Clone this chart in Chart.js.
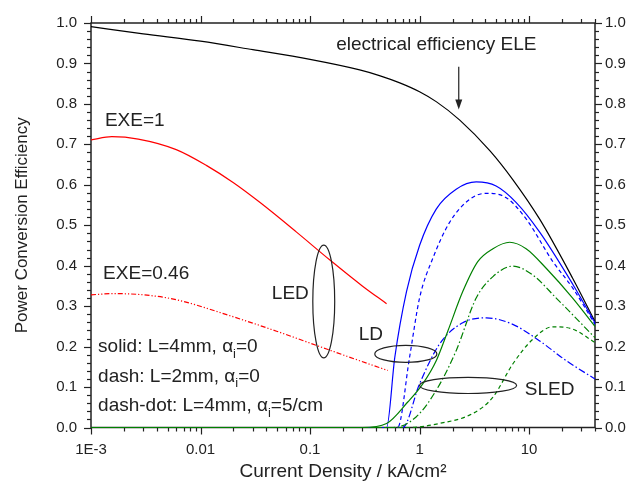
<!DOCTYPE html>
<html><head><meta charset="utf-8">
<script src="https://cdn.jsdelivr.net/npm/chart.js@4/dist/chart.umd.min.js"></script>
<style>html,body{margin:0;padding:0;background:#fff}</style>
</head><body>
<canvas id="c" width="635" height="491"></canvas>
<script>
// ---- tick labels ----
const xTicks = [0.001, 0.01, 0.1, 1, 10];
const xTickLabels = ['1E-3', '0.01', '0.1', '1', '10'];
const yTicks = [0, 0.1, 0.2, 0.3, 0.4, 0.5, 0.6, 0.7, 0.8, 0.9, 1.0];

// ---- series (current density kA/cm^2, efficiency) ----
const ELE_J = [0.001, 0.003, 0.01, 0.03, 0.1, 0.284, 0.43, 0.66, 1.0, 1.43, 2.33, 4.4, 7.1, 12.5, 25, 40];
const ELE   = [0.991, 0.973, 0.955, 0.934, 0.910, 0.884, 0.870, 0.852, 0.830, 0.805, 0.760, 0.684, 0.613, 0.515, 0.369, 0.262];

const LED1_J = [0.001, 0.00155, 0.0027, 0.006, 0.0113, 0.02, 0.035, 0.0753, 0.152, 0.3, 0.5];
const LED1   = [0.711, 0.719, 0.713, 0.687, 0.648, 0.605, 0.556, 0.483, 0.414, 0.350, 0.306];

const LED046_J = [0.001, 0.0016, 0.003, 0.006, 0.0173, 0.0495, 0.1416, 0.284, 0.513];
const LED046   = [0.328, 0.331, 0.328, 0.316, 0.279, 0.238, 0.194, 0.165, 0.141];

const LD_SOLID_J = [0.001, 0.5, 0.594, 0.76, 1.0, 1.42, 2.16, 3.29, 5.0, 7.64, 12.5, 25.2, 40];
const LD_SOLID   = [0, 0, 0.173, 0.336, 0.450, 0.540, 0.589, 0.607, 0.597, 0.556, 0.483, 0.353, 0.259];

const LD_DASH_J = [0.001, 0.63, 0.81, 1.0, 1.32, 1.88, 2.86, 4.07, 6.2, 9.44, 16.5, 25, 40];
const LD_DASH   = [0, 0, 0.173, 0.320, 0.418, 0.507, 0.564, 0.579, 0.568, 0.515, 0.410, 0.345, 0.255];

const LD_DOT_J = [0.001, 0.7, 1.0, 1.52, 2.48, 4.07, 7.1, 12.5, 21.9, 40];
const LD_DOT   = [0, 0, 0.108, 0.206, 0.259, 0.271, 0.255, 0.214, 0.165, 0.120];

const SLED_SOLID_J = [0.001, 0.3, 0.5, 0.78, 1.07, 1.42, 1.81, 2.48, 3.4, 4.68, 6.65, 9.4, 14.4, 25, 40];
const SLED_SOLID   = [0, 0, 0.010, 0.063, 0.108, 0.165, 0.238, 0.336, 0.410, 0.442, 0.458, 0.442, 0.393, 0.320, 0.250];

const SLED_DOT_J = [0.001, 0.575, 0.93, 1.42, 2.16, 3.29, 4.68, 7.1, 10.8, 17.7, 40];
const SLED_DOT   = [0, 0, 0.026, 0.092, 0.190, 0.320, 0.373, 0.399, 0.377, 0.320, 0.222];

const SLED_DASH_J = [0.001, 0.8, 1.52, 3.08, 4.68, 7.1, 10.8, 16.5, 25.2, 40];
const SLED_DASH   = [0, 0, 0.010, 0.035, 0.075, 0.157, 0.218, 0.249, 0.243, 0.210];

// ---- styling ----
const FONT = "'Liberation Sans', Arial, sans-serif";
Chart.defaults.font.family = FONT;
Chart.defaults.color = '#222';

const DASH = [4, 3];
const DASHDOT = [7, 2.5, 1.5, 2.5];
const RED_DASHDOT = [5, 2, 1.2, 2, 1.2, 2];
const NOTE_SIZE = 19, SUB_SIZE = 13;

function pts(J, V) { return J.map((x, i) => ({x: x, y: V[i]})); }
function ds(J, V, color, dash, w) {
  return { data: pts(J, V), borderColor: color, borderWidth: w || 1.2, borderDash: dash || [],
           pointRadius: 0, fill: false, cubicInterpolationMode: 'monotone', clip: 4 };
}

const datasets = [
  ds(SLED_DASH_J, SLED_DASH, '#008000', DASH),
  ds(SLED_DOT_J, SLED_DOT, '#008000', DASHDOT),
  ds(SLED_SOLID_J, SLED_SOLID, '#008000'),
  ds(LD_DOT_J, LD_DOT, '#0000ff', DASHDOT),
  ds(LD_DASH_J, LD_DASH, '#0000ff', DASH),
  ds(LD_SOLID_J, LD_SOLID, '#0000ff'),
  ds(LED046_J, LED046, '#ff0000', RED_DASHDOT),
  ds(LED1_J, LED1, '#ff0000'),
  ds(ELE_J, ELE, '#000000'),
];

// ---- annotations (data coordinates) ----
const notes = [
  {parts: [['electrical efficiency ELE']], x: 11.7, y: 0.947, align: 'right'},
  {parts: [['EXE=1']], x: 0.00134, y: 0.758, align: 'left'},
  {parts: [['EXE=0.46']], x: 0.00129, y: 0.379, align: 'left'},
  {parts: [['LED']], x: 0.0975, y: 0.331, align: 'right'},
  {parts: [['LD']], x: 0.359, y: 0.229, align: 'center'},
  {parts: [['SLED']], x: 15.4, y: 0.094, align: 'center'},
  {parts: [['solid: L=4mm, \u03b1'], ['i', 'sub'], ['=0']], x: 0.00116, y: 0.199, align: 'left'},
  {parts: [['dash: L=2mm, \u03b1'], ['i', 'sub'], ['=0']], x: 0.00116, y: 0.126, align: 'left'},
  {parts: [['dash-dot: L=4mm, \u03b1'], ['i', 'sub'], ['=5/cm']], x: 0.00116, y: 0.053, align: 'left'},
];
const ellipses = [
  {x0: 0.106, x1: 0.168, y0: 0.172, y1: 0.451},
  {x0: 0.39, x1: 1.44, y0: 0.161, y1: 0.203},
  {x0: 1.0, x1: 7.7, y0: 0.084, y1: 0.124},
];
const arrow = {x: 2.28, yFrom: 0.892, yTo: 0.786};

const frame = {
  id: 'frame',
  beforeDatasetsDraw(chart) {
    const {ctx, chartArea: a, scales: {x, y}} = chart;
    ctx.save();
    ctx.strokeStyle = '#222';
    ctx.lineWidth = 1.5;
    ctx.strokeRect(a.left, a.top, a.right - a.left, a.bottom - a.top);
    ctx.lineWidth = 1.2;
    const ln = (x1, y1, x2, y2) => { ctx.beginPath(); ctx.moveTo(x1, y1); ctx.lineTo(x2, y2); ctx.stroke(); };
    for (let n = -3; n <= 1; n++) {
      for (let k = 1; k <= 9; k++) {
        const v = k * Math.pow(10, n);
        if (v > 40.0001) break;
        const px = Math.round(x.getPixelForValue(v)) + 0.5;
        const L = k === 1 ? 7 : 4;
        ln(px, a.bottom, px, a.bottom + L);
        ln(px, a.top, px, a.top - L);
      }
    }
    for (let i = 0; i <= 50; i++) {
      const py = Math.round(y.getPixelForValue(i / 50)) + 0.5;
      const L = i % 5 === 0 ? 7 : 4;
      ln(a.left - L, py, a.left, py);
      ln(a.right, py, a.right + L, py);
    }
    ctx.restore();
  },
  afterDatasetsDraw(chart) {
    const {ctx, scales: {x, y}} = chart;
    ctx.save();
    ctx.fillStyle = '#222';
    ctx.strokeStyle = '#222';
    ctx.textBaseline = 'middle';
    const fontFor = p => (p[1] === 'sub' ? SUB_SIZE : NOTE_SIZE) + 'px ' + FONT;
    for (const n of notes) {
      const px = x.getPixelForValue(n.x), py = y.getPixelForValue(n.y);
      let total = 0;
      const widths = n.parts.map(p => {
        ctx.font = fontFor(p);
        const w = ctx.measureText(p[0]).width; total += w; return w;
      });
      let cx = n.align === 'left' ? px : n.align === 'right' ? px - total : px - total / 2;
      ctx.textAlign = 'left';
      n.parts.forEach((p, i) => {
        ctx.font = fontFor(p);
        ctx.fillText(p[0], cx, p[1] === 'sub' ? py + 7 : py);
        cx += widths[i];
      });
    }
    ctx.lineWidth = 1.2;
    for (const e of ellipses) {
      const l = x.getPixelForValue(e.x0), r = x.getPixelForValue(e.x1);
      const t = y.getPixelForValue(e.y1), b = y.getPixelForValue(e.y0);
      ctx.beginPath();
      ctx.ellipse((l + r) / 2, (t + b) / 2, (r - l) / 2, (b - t) / 2, 0, 0, Math.PI * 2);
      ctx.stroke();
    }
    const ax = x.getPixelForValue(arrow.x), ay0 = y.getPixelForValue(arrow.yFrom), ay1 = y.getPixelForValue(arrow.yTo);
    ctx.beginPath(); ctx.moveTo(ax, ay0); ctx.lineTo(ax, ay1 - 8); ctx.stroke();
    ctx.beginPath(); ctx.moveTo(ax - 3.5, ay1 - 10); ctx.lineTo(ax + 3.5, ay1 - 10); ctx.lineTo(ax, ay1); ctx.closePath(); ctx.fill();
    ctx.restore();
  }
};

const tickFont = {size: 15};
new Chart(document.getElementById('c'), {
  type: 'line',
  data: {datasets},
  plugins: [frame],
  options: {
    responsive: false,
    animation: false,
    layout: {padding: {top: 19, left: 0, right: 0, bottom: 0}},
    plugins: {legend: {display: false}, tooltip: {enabled: false}},
    scales: {
      x: {
        type: 'logarithmic', position: 'bottom', min: 0.001, max: 40,
        afterBuildTicks: s => { s.ticks = xTicks.map(v => ({value: v})); },
        ticks: {callback: (v, i) => xTickLabels[i], font: tickFont, padding: 13, maxRotation: 0, autoSkip: false},
        grid: {display: false, drawTicks: false}, border: {display: false},
        title: {display: true, text: 'Current Density / kA/cm\u00b2', font: {size: 19}, padding: {top: 0, bottom: 8}},
        afterFit: s => { s.height = 63.5; }
      },
      y: {
        type: 'linear', position: 'left', min: 0, max: 1,
        afterBuildTicks: s => { s.ticks = yTicks.map(v => ({value: v})); },
        ticks: {callback: v => v.toFixed(1), font: tickFont, padding: 14},
        grid: {display: false, drawTicks: false}, border: {display: false},
        title: {display: true, text: 'Power Conversion Efficiency', font: {size: 17}, padding: {top: 12, bottom: 0}},
        afterFit: s => { s.width = 91; }
      },
      y2: {
        type: 'linear', position: 'right', min: 0, max: 1,
        afterBuildTicks: s => { s.ticks = yTicks.map(v => ({value: v})); },
        ticks: {callback: v => v.toFixed(1), font: tickFont, padding: 10},
        grid: {display: false, drawTicks: false}, border: {display: false},
        afterFit: s => { s.width = 40; }
      }
    }
  }
});
</script>
</body></html>
